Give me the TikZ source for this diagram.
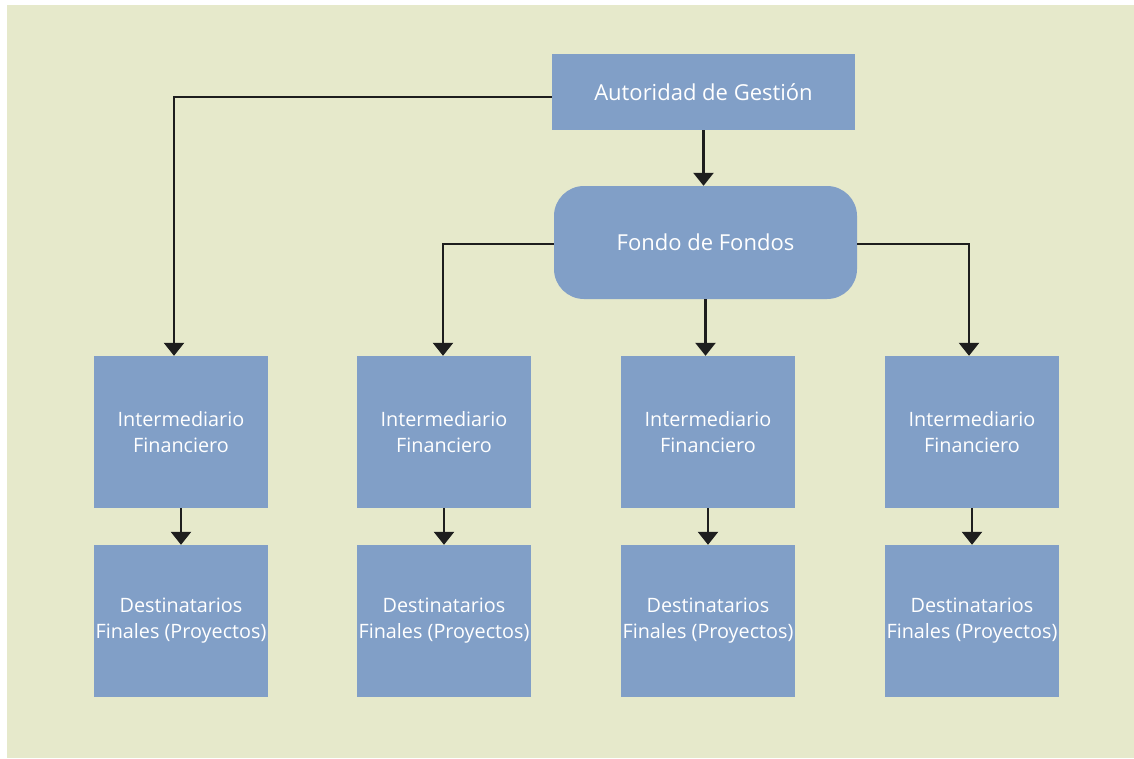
\documentclass[tikz,border=0pt]{standalone}
\usepackage{fontspec}
\setmainfont{Open Sans}
\usetikzlibrary{arrows.meta,calc}
\definecolor{bgc}{HTML}{E6E9CB}
\definecolor{boxc}{HTML}{819FC7}
\definecolor{linec}{HTML}{1E1E1E}
\tikzset{
  box/.style={fill=boxc, draw=none, text=white, align=center, font=\fontsize{19.8}{26}\selectfont, inner sep=0pt},
  smallbox/.style={box, minimum width=174pt, minimum height=152pt},
  arr/.style={draw=linec, line width=2.5pt, -{Triangle[width=20pt,length=13pt]}},
}
\begin{document}
\begin{tikzpicture}[x=1pt,y=-1pt]
\useasboundingbox (0,0) rectangle (1134,758);
\fill[white] (0,0) rectangle (1134,758);
\fill[bgc] (7,5) rectangle (1134,758);
\node[box, minimum width=303pt, minimum height=76pt] (ag) at (703.5,92) {\fontsize{22}{26}\selectfont Autoridad de Gestión};
\node[box, minimum width=303pt, minimum height=113pt, rounded corners=30pt] (ff) at (705.5,242.5) {\fontsize{22}{26}\selectfont Fondo de Fondos};
\foreach \i/\x in {1/181,2/444,3/708,4/972}{
  \node[smallbox] (if\i) at (\x,432) {Intermediario\\Financiero};
  \node[smallbox] (df\i) at (\x,621) {Destinatarios\\Finales (Proyectos)};
  \draw[arr] (if\i.south) -- (df\i.north);
}
\draw[arr] (ag.south) -- (ag.south |- ff.north);
\draw[arr] ($(ag.west)+(0,5)$) -| ($(if1.north)+(-7,0)$);
\draw[arr] ($(ff.west)+(0,1.5)$) -| ($(if2.north)+(-1,0)$);
\draw[arr] ($(ff.east)+(0,1.5)$) -| ($(if4.north)+(-3,0)$);
\draw[arr] (ff.south) -- (ff.south |- if3.north);
\end{tikzpicture}
\end{document}
